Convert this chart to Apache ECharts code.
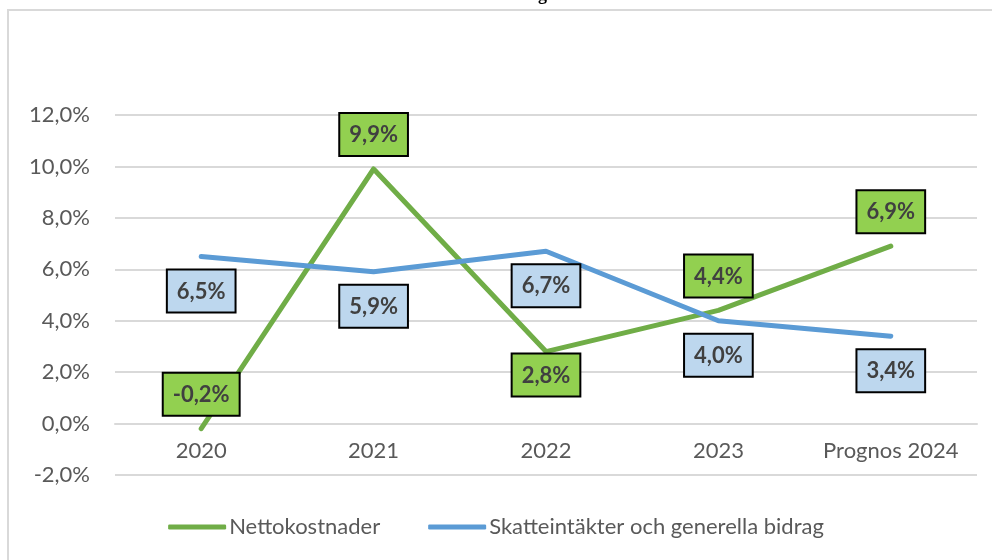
<!DOCTYPE html>
<html>
<head>
<meta charset="utf-8">
<script src="https://cdn.jsdelivr.net/npm/echarts@6/dist/echarts.min.js"></script>
<style>html,body{margin:0;padding:0;background:#fff;}#c{width:992px;height:560px;}</style>
</head>
<body>
<div id="c"></div>
<script>
const categories = ['2020', '2021', '2022', '2023', 'Prognos 2024'];
const nettokostnader = [-0.2, 9.9, 2.8, 4.4, 6.9];
const skatteintakter = [6.5, 5.9, 6.7, 4.0, 3.4];
const seriesNames = ['Nettokostnader', 'Skatteintäkter och generella bidrag'];
const yMin = -2, yMax = 12, yStep = 2;

const greenPos = ['top', 'top', 'bottom', 'top', 'top'];
const greenDist = [14, 14, 3, 14, 14];

const fmt = v => v.toFixed(1).replace('.', ',') + '%';
const FONT = 'Lato, "Open Sans", sans-serif';
const gridTop = 115, gridBottom = 85, H = 560;
const gridH = H - gridTop - gridBottom;
const zeroOffset = -((0 - yMin) / (yMax - yMin)) * gridH;

const chart = echarts.init(document.getElementById('c'));
const baseLabel = {
  show: true,
  formatter: p => fmt(p.value),
  fontFamily: FONT,
  fontSize: 22,
  fontWeight: 'bold',
  color: '#404040',
  lineHeight: 28,
  padding: [7, 9, 6, 9],
  borderColor: '#000',
  borderWidth: 2
};
chart.setOption({
  animation: false,
  graphic: [
    { type: 'rect', shape: { x: 8, y: 10, width: 1200, height: 1000 }, style: { fill: 'none', stroke: '#d9d9d9', lineWidth: 2 }, z: -1 },
    { type: 'text', x: 547, y: 4, style: { text: 'Utveckling', fontFamily: '"Liberation Serif", serif', fontWeight: 'bold', fontSize: 18, fill: '#000', align: 'right', verticalAlign: 'bottom' } }
  ],
  grid: { left: 115, right: 15, top: gridTop, bottom: gridBottom },
  legend: {
    bottom: 17,
    left: 'center',
    icon: 'roundRect',
    itemWidth: 58,
    itemHeight: 5,
    itemGap: 48,
    textStyle: { fontFamily: FONT, fontSize: 22, color: '#595959', padding: [0, 0, 0, -2] },
    data: seriesNames
  },
  xAxis: {
    type: 'category',
    data: categories,
    boundaryGap: true,
    offset: zeroOffset,
    axisLine: { show: true, onZero: false, lineStyle: { color: '#d9d9d9', width: 2 } },
    axisTick: { show: false },
    axisLabel: { fontFamily: FONT, fontSize: 22, color: '#595959', margin: 16, interval: 0 }
  },
  yAxis: {
    type: 'value',
    min: yMin, max: yMax, interval: yStep,
    axisLine: { show: false },
    axisTick: { show: false },
    splitLine: { lineStyle: { color: '#d9d9d9', width: 2 } },
    axisLabel: { fontFamily: FONT, fontSize: 22, color: '#595959', margin: 25, formatter: v => fmt(v) }
  },
  series: [
    {
      name: seriesNames[0],
      type: 'line',
      symbol: 'circle',
      symbolSize: 0.01,
      showSymbol: true,
      lineStyle: { color: '#70ad47', width: 5, cap: 'round', join: 'round' },
      itemStyle: { color: '#70ad47' },
      label: Object.assign({}, baseLabel, { backgroundColor: '#92d050' }),
      labelLayout: { hideOverlap: false },
      data: nettokostnader.map((v, i) => ({ value: v, label: { position: greenPos[i], distance: greenDist[i] } }))
    },
    {
      name: seriesNames[1],
      type: 'line',
      symbol: 'circle',
      symbolSize: 0.01,
      showSymbol: true,
      lineStyle: { color: '#5b9bd5', width: 5, cap: 'round', join: 'round' },
      itemStyle: { color: '#5b9bd5' },
      label: Object.assign({}, baseLabel, { backgroundColor: '#bdd7ee', position: 'bottom', distance: 14 }),
      labelLayout: { hideOverlap: false },
      data: skatteintakter
    }
  ]
});
</script>
</body>
</html>
